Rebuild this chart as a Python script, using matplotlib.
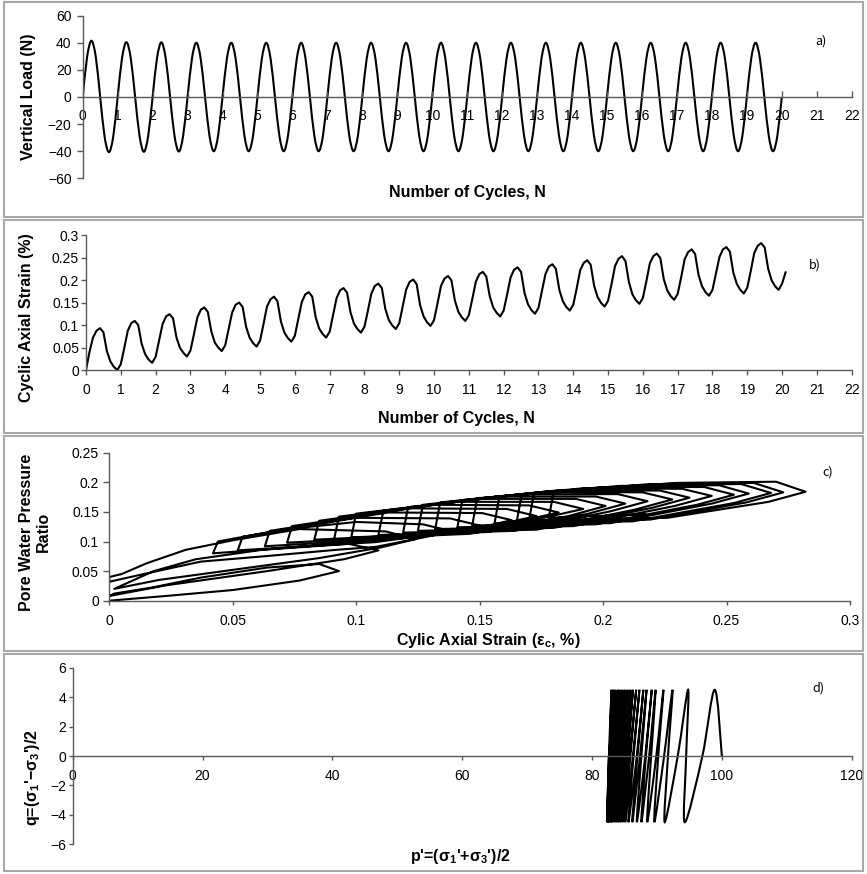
import numpy as np
import matplotlib
matplotlib.use("Agg")
import matplotlib.pyplot as plt
from matplotlib.path import Path
from matplotlib.patches import PathPatch, Rectangle
from matplotlib.ticker import FuncFormatter, MultipleLocator

plt.rcParams['font.family'] = ['Liberation Sans', 'DejaVu Sans']
plt.rcParams['mathtext.fontset'] = 'custom'
plt.rcParams['mathtext.rm'] = 'Liberation Sans:bold'
plt.rcParams['mathtext.it'] = 'Liberation Sans:bold'
plt.rcParams['mathtext.bf'] = 'Liberation Sans:bold'
plt.rcParams['mathtext.default'] = 'rm'

# a) vertical load, read every 1/8 cycle
load_cycles = [
    [0, 29.5, 41.5, 29.5, 0, -29.0, -40.7, -29.0],
    [0, 28.6, 40.5, 28.6, 0, -28.5, -40.4, -28.5],
    [0, 28.5, 40.3, 28.5, 0, -28.4, -40.2, -28.4],
    [0, 28.3, 40.0, 28.3, 0, -28.3, -40.0, -28.3],
    [0, 28.3, 40.0, 28.3, 0, -28.3, -40.0, -28.3],
    [0, 28.3, 40.0, 28.3, 0, -28.3, -40.0, -28.3],
    [0, 28.3, 40.0, 28.3, 0, -28.3, -40.0, -28.3],
    [0, 28.3, 40.0, 28.3, 0, -28.3, -40.0, -28.3],
    [0, 28.3, 40.0, 28.3, 0, -28.3, -40.0, -28.3],
    [0, 28.3, 40.0, 28.3, 0, -28.3, -40.0, -28.3],
    [0, 28.3, 40.0, 28.3, 0, -28.3, -40.0, -28.3],
    [0, 28.3, 40.0, 28.3, 0, -28.3, -40.0, -28.3],
    [0, 28.3, 40.0, 28.3, 0, -28.3, -40.0, -28.3],
    [0, 28.3, 40.0, 28.3, 0, -28.3, -40.0, -28.3],
    [0, 28.3, 40.0, 28.3, 0, -28.3, -40.0, -28.3],
    [0, 28.3, 40.0, 28.3, 0, -28.3, -40.0, -28.3],
    [0, 28.3, 40.0, 28.3, 0, -28.3, -40.0, -28.3],
    [0, 28.3, 40.0, 28.3, 0, -28.3, -40.0, -28.3],
    [0, 28.3, 40.0, 28.3, 0, -28.3, -40.0, -28.3],
    [0, 28.3, 40.0, 28.3, 0, -28.3, -40.0, -28.3],
]
load_end = [0]

# b) cyclic axial strain (%), read every 0.1 cycle
strain_rows = [
    [0.000, 0.040, 0.072, 0.087, 0.093, 0.084, 0.042, 0.019, 0.007, 0.000],
    [0.013, 0.049, 0.087, 0.104, 0.109, 0.100, 0.058, 0.035, 0.023, 0.016],
    [0.029, 0.065, 0.102, 0.119, 0.124, 0.115, 0.072, 0.049, 0.038, 0.030],
    [0.043, 0.079, 0.117, 0.134, 0.139, 0.129, 0.086, 0.061, 0.050, 0.042],
    [0.055, 0.091, 0.128, 0.145, 0.150, 0.140, 0.096, 0.072, 0.060, 0.052],
    [0.065, 0.102, 0.141, 0.157, 0.163, 0.153, 0.108, 0.083, 0.071, 0.063],
    [0.076, 0.113, 0.151, 0.168, 0.173, 0.163, 0.117, 0.092, 0.080, 0.072],
    [0.085, 0.122, 0.160, 0.177, 0.182, 0.172, 0.128, 0.103, 0.091, 0.083],
    [0.096, 0.132, 0.170, 0.187, 0.192, 0.182, 0.136, 0.111, 0.099, 0.091],
    [0.104, 0.141, 0.179, 0.196, 0.201, 0.191, 0.144, 0.119, 0.106, 0.098],
    [0.111, 0.148, 0.187, 0.203, 0.209, 0.199, 0.154, 0.129, 0.117, 0.109],
    [0.122, 0.158, 0.196, 0.213, 0.218, 0.208, 0.164, 0.139, 0.127, 0.119],
    [0.132, 0.168, 0.206, 0.223, 0.228, 0.218, 0.171, 0.146, 0.133, 0.125],
    [0.138, 0.175, 0.213, 0.230, 0.235, 0.225, 0.178, 0.153, 0.140, 0.132],
    [0.145, 0.182, 0.222, 0.238, 0.244, 0.234, 0.187, 0.162, 0.149, 0.141],
    [0.154, 0.191, 0.231, 0.247, 0.253, 0.242, 0.195, 0.168, 0.155, 0.147],
    [0.160, 0.197, 0.237, 0.253, 0.259, 0.249, 0.202, 0.177, 0.164, 0.156],
    [0.169, 0.206, 0.246, 0.262, 0.268, 0.258, 0.211, 0.186, 0.173, 0.165],
    [0.178, 0.214, 0.251, 0.268, 0.273, 0.263, 0.216, 0.191, 0.178, 0.170],
    [0.183, 0.220, 0.260, 0.276, 0.282, 0.272, 0.225, 0.199, 0.186, 0.178],
]
strain_end = [0.192, 0.217]

# c) pore water pressure ratio vs cyclic strain, one loop per cycle (strain %, ratio)
pwp_loops = [
    [(0.000, 0.000), (0.023, 0.008), (0.050, 0.018), (0.077, 0.034), (0.093, 0.050),
     (0.085, 0.062), (0.064, 0.056), (0.037, 0.039), (0.017, 0.022), (0.002, 0.012)],
    [(0.000, 0.008), (0.023, 0.026), (0.064, 0.050), (0.095, 0.070), (0.109, 0.085),
     (0.097, 0.096), (0.062, 0.086), (0.035, 0.070), (0.018, 0.050)],
    [(0.002, 0.020), (0.020, 0.035), (0.050, 0.052), (0.085, 0.072), (0.110, 0.090),
     (0.124, 0.104), (0.112, 0.117), (0.077, 0.121), (0.050, 0.102), (0.031, 0.086),
     (0.015, 0.063), (0.005, 0.045), (0.000, 0.040)],
    [(0.000, 0.032), (0.015, 0.046), (0.037, 0.066), (0.064, 0.0755), (0.091, 0.0856),
     (0.108, 0.091), (0.125, 0.105), (0.139, 0.117), (0.127, 0.129), (0.100, 0.133),
     (0.070, 0.120), (0.044, 0.100)],
    [(0.042, 0.080), (0.096, 0.097), (0.135, 0.115), (0.150, 0.127), (0.138, 0.139), (0.100, 0.140), (0.054, 0.108)],
    [(0.052, 0.085), (0.108, 0.099), (0.148, 0.122), (0.163, 0.136), (0.151, 0.148), (0.113, 0.149), (0.065, 0.118)],
    [(0.063, 0.092), (0.118, 0.105), (0.158, 0.129), (0.173, 0.143), (0.161, 0.155), (0.122, 0.156), (0.074, 0.126)],
    [(0.072, 0.098), (0.127, 0.110), (0.167, 0.135), (0.182, 0.149), (0.170, 0.161), (0.132, 0.162), (0.085, 0.135)],
    [(0.083, 0.103), (0.137, 0.114), (0.177, 0.141), (0.192, 0.155), (0.180, 0.167), (0.141, 0.167), (0.093, 0.142)],
    [(0.091, 0.103), (0.146, 0.113), (0.186, 0.143), (0.201, 0.160), (0.189, 0.172), (0.150, 0.172), (0.100, 0.147)],
    [(0.098, 0.107), (0.153, 0.116), (0.194, 0.147), (0.209, 0.164), (0.197, 0.176), (0.159, 0.176), (0.111, 0.152)],
    [(0.109, 0.111), (0.164, 0.118), (0.203, 0.151), (0.218, 0.168), (0.206, 0.180), (0.168, 0.180), (0.121, 0.158)],
    [(0.119, 0.115), (0.173, 0.120), (0.213, 0.154), (0.228, 0.171), (0.216, 0.183), (0.176, 0.184), (0.127, 0.162)],
    [(0.125, 0.118), (0.180, 0.123), (0.220, 0.157), (0.235, 0.174), (0.223, 0.186), (0.183, 0.187), (0.134, 0.166)],
    [(0.132, 0.121), (0.188, 0.126), (0.229, 0.160), (0.244, 0.177), (0.232, 0.189), (0.192, 0.190), (0.143, 0.170)],
    [(0.141, 0.124), (0.197, 0.129), (0.238, 0.162), (0.253, 0.179), (0.241, 0.192), (0.200, 0.192), (0.149, 0.173)],
    [(0.147, 0.127), (0.203, 0.131), (0.244, 0.164), (0.259, 0.181), (0.247, 0.195), (0.207, 0.194), (0.158, 0.176)],
    [(0.156, 0.130), (0.212, 0.134), (0.253, 0.165), (0.268, 0.182), (0.256, 0.197), (0.216, 0.196), (0.167, 0.179)],
    [(0.165, 0.133), (0.219, 0.137), (0.258, 0.166), (0.273, 0.183), (0.261, 0.199), (0.221, 0.197), (0.172, 0.181)],
    [(0.170, 0.136), (0.226, 0.140), (0.267, 0.167), (0.282, 0.184), (0.270, 0.201), (0.230, 0.199), (0.180, 0.184)],
    [(0.178, 0.140), (0.217, 0.146)],
]

# d) stress path, p' and q at quarter cycles
p_path = [100.0, 98.9, 97.0, 94.3, 94.5, 94.8, 93.2, 91.2, 91.7, 92.4, 91.1, 89.6,
          90.2, 91.0, 89.9, 88.5, 89.1, 89.8, 88.8, 87.6, 88.3, 89.2, 88.2, 86.9,
          87.6, 88.4, 87.4, 86.2, 87.0, 87.9, 86.9, 85.6, 86.4, 87.3, 86.3, 85.1,
          85.9, 86.8, 85.8, 84.7, 85.5, 86.3, 85.4, 84.3, 85.1, 85.9, 85.0, 84.0,
          84.7, 85.5, 84.6, 83.7, 84.4, 85.1, 84.3, 83.4, 84.1, 84.7, 83.9, 83.1,
          83.7, 84.3, 83.6, 82.9, 83.4, 84.0, 83.4, 82.7, 83.1, 83.6, 83.1, 82.5,
          82.9, 83.3, 82.8, 82.4, 82.7, 83.0, 82.6, 82.3, 82.6]
q_path = [0, 4.5, 0, -4.5] * 20 + [0]

W, H = 867, 874
AX_COLOR = '#595959'
LABEL_FONT = dict(fontsize=11.5, fontweight='bold')


def box(l, t, r, b):
    return [l / W, 1 - b / H, (r - l) / W, (b - t) / H]


def smooth(xs, ys):
    pts = np.column_stack([xs, ys]).astype(float)
    n = len(pts)
    verts = [pts[0]]
    codes = [Path.MOVETO]
    for i in range(n - 1):
        p0 = pts[i - 1] if i > 0 else pts[i]
        p1, p2 = pts[i], pts[i + 1]
        p3 = pts[i + 2] if i + 2 < n else pts[i + 1]
        verts += [p1 + (p2 - p0) / 6, p2 - (p3 - p1) / 6, p2]
        codes += [Path.CURVE4] * 3
    return Path(verts, codes)


def fmt(v, pos):
    return f'{v:g}'.replace('-', '\u2212')


def style(ax, xstep, ystep, xpad, ypad, xlen=4, ylen=4, xdir='out'):
    for s in ['top', 'right']:
        ax.spines[s].set_visible(False)
    for s in ['left', 'bottom']:
        ax.spines[s].set_color(AX_COLOR)
        ax.spines[s].set_linewidth(1)
    ax.xaxis.set_major_locator(MultipleLocator(xstep))
    ax.yaxis.set_major_locator(MultipleLocator(ystep))
    ax.xaxis.set_major_formatter(FuncFormatter(fmt))
    ax.yaxis.set_major_formatter(FuncFormatter(fmt))
    ax.tick_params(axis='x', direction=xdir, length=xlen, width=1, pad=xpad,
                   color=AX_COLOR, labelsize=10)
    ax.tick_params(axis='y', direction='out', length=ylen, width=1, pad=ypad,
                   color=AX_COLOR, labelsize=10)


fig = plt.figure(figsize=(W / 100, H / 100), dpi=100)

# panel frames
for top, bot in [(2, 217), (220, 433), (436, 651), (654, 871)]:
    fig.add_artist(Rectangle((4 / W, 1 - bot / H), 859 / W, (bot - top) / H,
                             transform=fig.transFigure, fill=False,
                             ec='#a8a8a8', lw=1.5))

# ---- a) vertical load
ax1 = fig.add_axes(box(82.7, 15.7, 851.7, 178.3))
load_y = [v for row in load_cycles for v in row] + load_end
load_x = np.arange(len(load_y)) / 8.0
ax1.add_patch(PathPatch(smooth(load_x, load_y), fill=False, ec='black', lw=1.5))
ax1.set_xlim(0, 22)
ax1.set_ylim(-60, 60)
ax1.spines['bottom'].set_position(('data', 0))
style(ax1, 1, 20, xpad=9, ypad=3.5, xlen=4, ylen=4.5, xdir='in')

# ---- b) cyclic axial strain
ax2 = fig.add_axes(box(86, 235, 851.7, 370))
strain_y = [v for row in strain_rows for v in row] + strain_end
strain_x = np.arange(len(strain_y)) / 10.0
ax2.plot(strain_x, strain_y, color='black', lw=1.5)
ax2.set_xlim(0, 22)
ax2.set_ylim(0, 0.3)
style(ax2, 1, 0.05, xpad=6, ypad=1.5, xlen=3.5, ylen=3.5)

# ---- c) pore pressure ratio
ax3 = fig.add_axes(box(109.3, 452.7, 850, 600.7))
c_pts = [p for loop in pwp_loops for p in loop]
ax3.plot([p[0] for p in c_pts], [p[1] for p in c_pts], color='black', lw=1.5)
ax3.set_xlim(0, 0.3)
ax3.set_ylim(0, 0.25)
style(ax3, 0.05, 0.05, xpad=6.5, ypad=3, xlen=3, ylen=4.5)

# ---- d) stress path
ax4 = fig.add_axes(box(72.7, 667.7, 851.7, 844.3))
ax4.add_patch(PathPatch(smooth(p_path, q_path), fill=False, ec='black', lw=1.5))
ax4.set_xlim(0, 120)
ax4.set_ylim(-6, 6)
ax4.spines['bottom'].set_position(('data', 0))
style(ax4, 20, 2, xpad=6, ypad=1.5, xlen=3, ylen=3)

# axis titles
def ftext(x, y, s, **kw):
    fig.text(x / W, 1 - y / H, s, ha='center', va='center', **kw)

ftext(467, 193, 'Number of Cycles, N', **LABEL_FONT)
ftext(29, 97, 'Vertical Load (N)', rotation=90, **LABEL_FONT)
ftext(456, 418, 'Number of Cycles, N', **LABEL_FONT)
ftext(27, 318, 'Cyclic Axial Strain (%)', rotation=90, **LABEL_FONT)
ftext(488, 641, 'Cylic Axial Strain (ε$_c$, %)', **LABEL_FONT)
ftext(35, 532, 'Pore Water Pressure\nRatio', rotation=90, linespacing=1.1, **LABEL_FONT)
ftext(460, 857, "p'=(σ$_1$'+σ$_3$')/2", **LABEL_FONT)
ftext(33, 778, "q=(σ$_1$'\u2212σ$_3$')/2", rotation=90, **LABEL_FONT)

# panel letters
for x, y, s in [(821, 41, 'a)'), (815, 265, 'b)'), (828, 472, 'c)'), (818, 688, 'd)')]:
    fig.text(x / W, 1 - y / H, s, ha='center', va='center', fontsize=9,
             family=['Noto Sans CJK JP', 'DejaVu Sans'])

fig.savefig('out.png', dpi=100)
